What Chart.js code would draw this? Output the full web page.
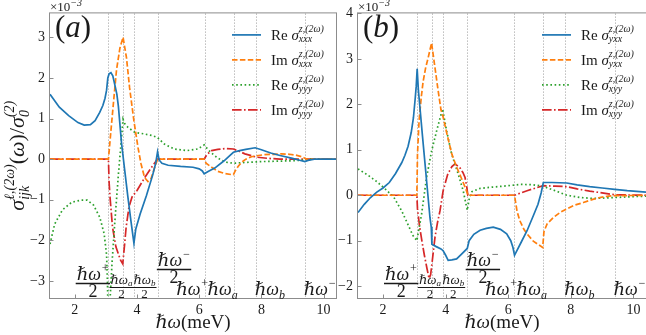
<!DOCTYPE html>
<html>
<head>
<meta charset="utf-8">
<script src="https://cdn.jsdelivr.net/npm/chart.js@4/dist/chart.umd.min.js"></script>
<style>
  body { margin: 0; background: #fff; width: 646px; height: 335px; overflow: hidden; position: relative; }
  canvas { position: absolute; top: 0; }
</style>
</head>
<body>
<canvas id="chartA" width="340" height="335" style="left:0"></canvas>
<canvas id="chartB" width="326" height="335" style="left:320px"></canvas>
<script>
// Eje x común (meV) y marcas de los ejes
const xMin = 1.2, xMax = 10.4;
const xTicks = [2, 4, 6, 8, 10];
const yTicksA = [-3, -2, -1, 0, 1, 2, 3];
const yTicksB = [-2, -1, 0, 1, 2, 3, 4];

// Líneas verticales: ħω+/2, ħωa/2, ħωb/2, ħω-/2, ħω+, ħωa, ħωb, ħω-
const markerX = [3.08, 3.55, 3.9, 4.69, 6.17, 7.11, 7.82, 9.41];

// Panel (a)
const reXxxX = [1.2, 1.5, 1.8, 2.1, 2.3, 2.5, 2.65, 2.8, 2.9, 2.97, 3.02, 3.06, 3.1, 3.16, 3.22, 3.28, 3.35, 3.4, 3.45, 3.5, 3.6, 3.7, 3.8, 3.9, 3.96, 4.1, 4.3, 4.5, 4.6, 4.66, 4.71, 4.8, 5.0, 5.4, 5.8, 6.0, 6.1, 6.16, 6.3, 6.5, 6.8, 7.0, 7.1, 7.3, 7.5, 7.8, 8.0, 8.3, 8.6, 9.0, 9.2, 9.4, 9.5, 9.7, 10.4];
const reXxxY = [1.6, 1.28, 1.07, 0.9, 0.84, 0.85, 0.95, 1.15, 1.32, 1.5, 1.7, 2.0, 2.1, 2.13, 2.05, 1.85, 1.6, 1.3, 0.85, 0.4, -0.25, -0.9, -1.5, -2.07, -1.72, -1.35, -0.9, -0.4, -0.1, 0.18, -0.02, -0.1, -0.15, -0.18, -0.2, -0.24, -0.29, -0.36, -0.3, -0.22, -0.04, 0.1, 0.17, 0.21, 0.24, 0.28, 0.23, 0.15, 0.09, 0.02, -0.02, -0.06, -0.03, 0, 0];
const imXxxX = [1.2, 3.08, 3.16, 3.24, 3.34, 3.45, 3.55, 3.66, 3.76, 3.9, 4.03, 4.13, 4.24, 4.35, 4.45, 4.56, 4.66, 6.16, 6.22, 6.4, 6.6, 6.8, 7.04, 7.1, 7.15, 7.25, 7.36, 7.5, 7.68, 7.9, 8.1, 8.4, 8.64, 8.9, 9.1, 9.3, 9.45, 10.4];
const imXxxY = [0, 0, 0.7, 1.38, 2.2, 2.74, 3.0, 2.5, 1.76, 0.94, 0.29, -0.12, -0.45, -0.55, -0.48, -0.22, 0, 0, -0.1, -0.2, -0.3, -0.35, -0.38, -0.38, -0.3, -0.18, -0.08, 0.0, 0.06, 0.09, 0.11, 0.12, 0.13, 0.12, 0.1, 0.06, 0, 0];
const reYyyX = [1.2, 1.35, 1.6, 1.9, 2.2, 2.4, 2.6, 2.8, 2.94, 3.02, 3.05, 3.07, 3.1, 3.15, 3.2, 3.29, 3.4, 3.5, 3.55, 3.6, 3.71, 3.93, 4.24, 4.5, 4.66, 4.88, 5.2, 5.6, 5.95, 6.16, 6.3, 6.5, 6.7, 6.9, 7.1, 7.5, 8.0, 8.5, 9.0, 9.4, 9.6, 10.4];
const reYyyY = [-2.09, -1.6, -1.25, -1.06, -1.01, -1.01, -1.13, -1.43, -1.83, -2.35, -3.1, -3.9, -3.9, -3.2, -2.5, -1.5, -0.38, 0.52, 0.98, 0.88, 0.78, 0.66, 0.62, 0.58, 0.53, 0.37, 0.25, 0.21, 0.25, 0.35, 0.22, 0.08, -0.02, -0.08, -0.1, -0.08, -0.06, -0.05, -0.04, -0.02, 0, 0];
const imYyyX = [1.2, 3.08, 3.1, 3.13, 3.21, 3.32, 3.47, 3.54, 3.6, 3.65, 3.74, 3.84, 4.0, 4.25, 4.45, 4.66, 6.16, 6.25, 6.4, 6.6, 6.83, 7.1, 7.3, 7.47, 7.84, 8.2, 8.6, 10.4];
const imYyyY = [0, 0, -0.55, -0.93, -1.67, -2.16, -2.49, -2.58, -2.1, -1.67, -1.18, -0.93, -0.77, -0.45, -0.22, 0, 0, 0.12, 0.21, 0.24, 0.26, 0.25, 0.19, 0.13, 0.05, 0.02, 0, 0];

// Panel (b)
const reYxxX = [1.2, 1.4, 1.6, 1.8, 2.0, 2.2, 2.4, 2.6, 2.7, 2.8, 2.9, 2.97, 3.03, 3.06, 3.09, 3.13, 3.18, 3.26, 3.34, 3.42, 3.5, 3.54, 3.56, 3.7, 3.85, 3.92, 4.0, 4.08, 4.2, 4.35, 4.5, 4.69, 4.75, 4.9, 5.1, 5.3, 5.52, 5.75, 5.95, 6.08, 6.15, 6.2, 6.4, 6.6, 6.8, 6.95, 7.05, 7.12, 7.4, 7.87, 8.2, 8.6, 9.0, 9.4, 9.8, 10.4];
const reYxxY = [-0.38, -0.2, -0.05, 0.07, 0.16, 0.28, 0.48, 0.72, 0.88, 1.08, 1.38, 1.7, 2.15, 2.4, 2.78, 2.3, 1.92, 1.3, 0.7, 0.1, -0.5, -0.7, -1.08, -1.13, -1.18, -1.22, -1.32, -1.43, -1.42, -1.4, -1.3, -1.17, -1.0, -0.86, -0.77, -0.73, -0.7, -0.75, -0.85, -1.0, -1.15, -1.32, -1.05, -0.78, -0.45, -0.2, 0.05, 0.28, 0.28, 0.27, 0.23, 0.19, 0.16, 0.13, 0.1, 0.07];
const imYxxX = [1.2, 3.08, 3.1, 3.15, 3.22, 3.28, 3.36, 3.44, 3.5, 3.55, 3.65, 3.75, 3.85, 3.92, 4.04, 4.2, 4.35, 4.5, 4.62, 4.69, 4.71, 6.2, 6.28, 6.37, 6.5, 6.6, 6.8, 6.95, 7.1, 7.14, 7.24, 7.44, 7.65, 7.87, 8.1, 8.4, 8.7, 8.93, 9.2, 9.4, 10.4];
const imYxxY = [0, 0, 0.9, 1.63, 2.15, 2.5, 2.8, 3.02, 3.2, 3.35, 2.85, 2.35, 1.88, 1.72, 1.35, 0.9, 0.62, 0.38, 0.18, 0.05, 0, 0, -0.35, -0.56, -0.75, -0.85, -1.01, -1.08, -1.15, -0.8, -0.63, -0.49, -0.38, -0.3, -0.22, -0.16, -0.09, -0.05, -0.02, -0.01, 0];
const reXyyX = [1.2, 1.5, 1.8, 2.1, 2.35, 2.6, 2.8, 2.95, 3.08, 3.23, 3.39, 3.55, 3.71, 3.9, 4.03, 4.19, 4.4, 4.56, 4.69, 4.76, 4.84, 5.1, 5.5, 6.0, 6.4, 6.8, 7.1, 7.5, 7.87, 8.3, 8.7, 9.1, 9.4, 10.0, 10.4];
const reXyyY = [0.58, 0.45, 0.3, 0.12, -0.05, -0.35, -0.65, -0.88, -1.0, -0.42, 0.39, 0.97, 1.41, 1.9, 1.42, 0.91, 0.47, 0.1, -0.33, -0.05, 0.08, 0.15, 0.18, 0.21, 0.24, 0.23, 0.2, 0.1, 0.0, -0.05, -0.07, -0.06, -0.05, -0.03, -0.02];
const imXyyX = [1.2, 3.08, 3.1, 3.17, 3.24, 3.32, 3.4, 3.47, 3.52, 3.58, 3.66, 3.74, 3.82, 3.92, 4.07, 4.2, 4.3, 4.45, 4.55, 4.62, 4.67, 4.71, 6.2, 6.6, 7.12, 7.5, 7.87, 8.2, 8.6, 8.93, 9.2, 9.4, 10.4];
const imXyyY = [0, 0, -0.3, -0.7, -1.0, -1.32, -1.6, -1.83, -1.75, -1.4, -0.92, -0.6, -0.34, 0.1, 0.47, 0.63, 0.69, 0.61, 0.5, 0.39, 0.2, 0, 0, 0.1, 0.21, 0.2, 0.19, 0.14, 0.09, 0.06, 0.03, 0.01, 0];

// Leyendas
const legendPrefix = ["Re", "Im", "Re", "Im"];
const legendSubA = ["xxx", "xxx", "yyy", "yyy"];
const legendSubB = ["yxx", "yxx", "xyy", "xyy"];

// Etiquetas inferiores (posición x en meV)
const halfLabelX = [2.58, 3.5, 4.24, 5.19];
const fullLabelX = [5.78, 6.75, 8.27, 9.88];
const labelSym = [["+", "sup"], ["a", "sub"], ["b", "sub"], ["−", "sup"]];

const lineStyles = [
  { color: "#1f77b4", dash: [] },
  { color: "#ff7f0e", dash: [5.5, 2.4] },
  { color: "#2ca02c", dash: [1.6, 2.6] },
  { color: "#d62728", dash: [9.6, 2.4, 1.6, 2.4] }
];

const SERIF = '"Liberation Serif", "DejaVu Serif", serif';
const SPINE = "#8c8c8c";
const TEXT = "#1a1a1a";
const font = (s, it) => `${it ? "italic " : ""}${s}px ${SERIF}`;

const runWidth = (ctx, r) => {
  if (r.sub !== undefined || r.sup !== undefined) {
    ctx.font = font(r.s, true);
    return Math.max(r.sub ? ctx.measureText(r.sub).width : 0, r.sup ? ctx.measureText(r.sup).width : 0);
  }
  ctx.font = font(r.s, r.it);
  return ctx.measureText(r.t).width;
};

const drawRuns = (ctx, x, y, runs, align = "left") => {
  const total = runs.reduce((w, r) => w + runWidth(ctx, r), 0);
  let cx = align === "center" ? x - total / 2 : align === "right" ? x - total : x;
  ctx.textAlign = "left";
  ctx.textBaseline = "alphabetic";
  runs.forEach(r => {
    const w = runWidth(ctx, r);
    if (r.sub !== undefined || r.sup !== undefined) {
      ctx.font = font(r.s, true);
      if (r.sup) ctx.fillText(r.sup, cx, y - r.up);
      if (r.sub) ctx.fillText(r.sub, cx, y + r.down);
    } else {
      ctx.font = font(r.s, r.it);
      ctx.fillText(r.t, cx, y);
    }
    cx += w;
  });
  return total;
};

const hbarRuns = (sym, kind, s) => {
  const r = [{ t: "ℏω", s, it: true }];
  if (kind === "sup") r.push({ sup: sym, s: Math.round(s * 0.68), up: s * 0.42 });
  else r.push({ sub: sym, s: Math.round(s * 0.68), down: s * 0.2 });
  return r;
};

const fmt = v => String(v).replace("-", "−");

const makeDecor = cfg => ({
  id: "decor",
  beforeDatasetsDraw(chart) {
    const { ctx, chartArea: a, scales: { x } } = chart;
    ctx.save();
    ctx.strokeStyle = "rgba(150,150,150,0.8)";
    ctx.lineWidth = 0.8;
    ctx.setLineDash([1.5, 1.5]);
    markerX.forEach(v => {
      const px = Math.round(x.getPixelForValue(v)) + 0.5;
      ctx.beginPath();
      ctx.moveTo(px, a.top);
      ctx.lineTo(px, a.bottom);
      ctx.stroke();
    });
    ctx.restore();
  },
  afterDraw(chart) {
    const { ctx, chartArea: a, scales: { x, y } } = chart;
    ctx.save();

    // Marco y marcas hacia dentro
    ctx.strokeStyle = SPINE;
    ctx.lineWidth = 1;
    ctx.setLineDash([]);
    ctx.strokeRect(a.left - 0.5, a.top - 0.5, a.right - a.left + 1, a.bottom - a.top + 1);
    cfg.yTicks.forEach(v => {
      const py = Math.round(y.getPixelForValue(v)) + 0.5;
      ctx.beginPath(); ctx.moveTo(a.left, py); ctx.lineTo(a.left + 3.5, py); ctx.stroke();
    });
    xTicks.forEach(v => {
      const px = Math.round(x.getPixelForValue(v)) + 0.5;
      ctx.beginPath(); ctx.moveTo(px, a.bottom); ctx.lineTo(px, a.bottom - 3.5); ctx.stroke();
    });

    ctx.fillStyle = TEXT;
    ctx.strokeStyle = TEXT;

    // ×10^-3
    drawRuns(ctx, a.left, 11, [{ t: "×10", s: 13 }, { sup: "−3", s: 10, up: 5 }]);

    // (a) / (b)
    drawRuns(ctx, a.left + 5, 37, [{ t: "(", s: 31 }, { t: cfg.tag, s: 31, it: true }, { t: ")", s: 31 }]);

    // Leyenda
    const sx0 = a.right - 104, sx1 = a.right - 75, tx = a.right - 65;
    cfg.legendSub.forEach((sub, i) => {
      const ly = a.top + 21.5 + i * 25;
      ctx.save();
      ctx.strokeStyle = lineStyles[i].color;
      ctx.lineWidth = 1.7;
      ctx.setLineDash(lineStyles[i].dash);
      ctx.beginPath(); ctx.moveTo(sx0, ly); ctx.lineTo(sx1, ly); ctx.stroke();
      ctx.restore();
      drawRuns(ctx, tx, ly + 5, [
        { t: legendPrefix[i] + " ", s: 15 },
        { t: "σ", s: 15, it: true },
        { sub: sub, sup: "z,(2ω)", s: 10, up: 8, down: 2.5 }
      ]);
    });

    // Fracciones ħω/2
    const fracSize = [18, 13, 13, 18];
    const barOff = [15, 11.5, 11.5, 29];
    halfLabelX.forEach((v, i) => {
      const cx = x.getPixelForValue(v);
      const s = fracSize[i];
      const barY = Math.round(a.bottom - barOff[i]) + 0.5;
      const w = drawRuns(ctx, cx, barY - 4, hbarRuns(labelSym[i][0], labelSym[i][1], s), "center");
      ctx.lineWidth = s > 15 ? 1.3 : 1;
      ctx.beginPath(); ctx.moveTo(cx - w / 2 - 1, barY); ctx.lineTo(cx + w / 2 + 1, barY); ctx.stroke();
      drawRuns(ctx, cx, barY + s * 0.77, [{ t: "2", s }], "center");
    });

    // Etiquetas ħω
    fullLabelX.forEach((v, i) => {
      drawRuns(ctx, x.getPixelForValue(v), a.bottom - 3, hbarRuns(labelSym[i][0], labelSym[i][1], 18), "center");
    });

    // Título eje x
    drawRuns(ctx, (a.left + a.right) / 2, 328, [{ t: "ℏω", s: 19, it: true }, { t: "(meV)", s: 19 }], "center");

    // Título eje y (solo panel a)
    if (cfg.yTitle) {
      ctx.translate(24, (a.top + a.bottom) / 2);
      ctx.rotate(-Math.PI / 2);
      drawRuns(ctx, 0, 0, [
        { t: "σ", s: 22, it: true },
        { sub: "ijk", sup: "ℓ,(2ω)", s: 14, up: 10, down: 5 },
        { t: "(", s: 22 },
        { t: "ω", s: 22, it: true },
        { t: ")/", s: 22 },
        { t: "σ", s: 22, it: true },
        { sub: "0", sup: "(2)", s: 14, up: 10, down: 5 }
      ], "center");
    }
    ctx.restore();
  }
});

const buildChart = (id, cfg) => {
  const datasets = cfg.series.map((s, i) => ({
    data: s[0].map((v, k) => ({ x: v, y: s[1][k] })),
    borderColor: lineStyles[i].color,
    borderDash: lineStyles[i].dash,
    borderWidth: 1.7,
    pointRadius: 0,
    tension: 0,
    fill: false
  }));
  const tickFont = { family: SERIF, size: 14 };
  return new Chart(document.getElementById(id), {
    type: "line",
    data: { datasets },
    options: {
      responsive: false,
      animation: false,
      devicePixelRatio: 1,
      layout: { padding: { left: 0, right: cfg.padRight, top: 12, bottom: 0 } },
      plugins: { legend: { display: false }, tooltip: { enabled: false } },
      scales: {
        x: {
          type: "linear",
          min: xMin,
          max: xMax,
          afterBuildTicks: s => { s.ticks = xTicks.map(v => ({ value: v })); },
          afterFit: s => { s.height = 37; },
          grid: { display: false, drawTicks: false },
          border: { display: false },
          ticks: { font: tickFont, color: TEXT, padding: 4, maxRotation: 0, autoSkip: false, callback: v => fmt(v) }
        },
        y: {
          type: "linear",
          min: cfg.yMin,
          max: cfg.yMax,
          afterBuildTicks: s => { s.ticks = cfg.yTicks.map(v => ({ value: v })); },
          afterFit: s => { s.width = cfg.axisW; },
          grid: { display: false, drawTicks: false },
          border: { display: false },
          ticks: { font: tickFont, color: TEXT, padding: 5, autoSkip: false, callback: v => fmt(v) }
        }
      }
    },
    plugins: [makeDecor(cfg)]
  });
};

buildChart("chartA", {
  tag: "a",
  yMin: -3.42, yMax: 3.59, yTicks: yTicksA,
  axisW: 50, padRight: 4, yTitle: true,
  legendSub: legendSubA,
  series: [[reXxxX, reXxxY], [imXxxX, imXxxY], [reYyyX, reYyyY], [imYyyX, imYyyY]]
});

buildChart("chartB", {
  tag: "b",
  yMin: -2.26, yMax: 4.0, yTicks: yTicksB,
  axisW: 38, padRight: 0, yTitle: false,
  legendSub: legendSubB,
  series: [[reYxxX, reYxxY], [imYxxX, imYxxY], [reXyyX, reXyyY], [imXyyX, imXyyY]]
});
</script>
</body>
</html>
